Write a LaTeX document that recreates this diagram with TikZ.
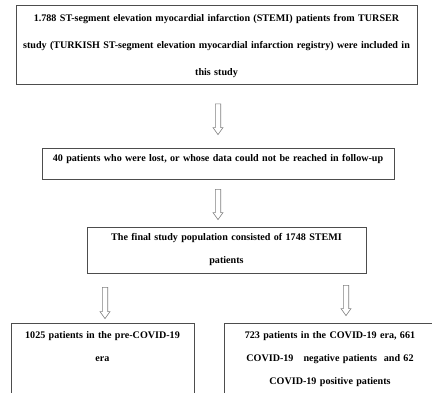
\documentclass[tikz,border=0pt]{standalone}
\usepackage{fontspec}
\setmainfont{Liberation Serif}
\usepackage{xcolor}
\usetikzlibrary{calc}
\definecolor{fgray}{HTML}{4D4D4D}
\definecolor{agray}{HTML}{808080}

\begin{document}
\begin{tikzpicture}[x=1pt, y=-1pt,
  flowbox/.style={draw=fgray, line width=0.8pt, inner sep=0pt, align=center, anchor=base,
    font=\fontsize{10.1}{23}\selectfont\bfseries},
  blockarrow/.style={draw=agray, line width=0.6pt, to path={let \p1=(\tikztostart), \p2=(\tikztotarget) in
    (\x1-2.7pt,\y1) -- (\x1+2.7pt,\y1) -- (\x1+2.7pt,\y2+7pt) -- (\x1+5pt,\y2+7pt) -- (\x1,\y2)
    -- (\x1-5pt,\y2+7pt) -- (\x1-2.7pt,\y2+7pt) -- cycle}}]
\useasboundingbox (0,0) rectangle (432,393);
\clip (0,0) rectangle (432,393);
\node[flowbox, text width=401pt, text height=16.5pt, text depth=62.5pt, font=\fontsize{10.1}{26.7}\selectfont\bfseries]
  (total) at (216.5,22) {1.788 ST-segment elevation myocardial infarction (STEMI) patients from TURSER\\
  study (TURKISH ST-segment elevation myocardial infarction registry) were included in\\this study};
\node[flowbox, text width=352pt, text height=13.5pt, text depth=17.5pt]
  (lost) at (218,161.5) {40 patients who were lost, or whose data could not be reached in follow-up};
\node[flowbox, text width=279pt, text height=13.5pt, text depth=32.5pt]
  (final) at (226.5,240.5) {The final study population consisted of 1748 STEMI\\patients};
\node[flowbox, text width=183pt, text height=15.5pt, text depth=90pt]
  (precovid) at (102.5,338.5) {1025 patients in the pre-COVID-19\\era};
\node[flowbox, text width=212pt, text height=15.5pt, text depth=90pt]
  (covid) at (330,338.5) {723 patients in the COVID-19 era, 661\\COVID-19\ \ \ negative patients\ \ and 62\\COVID-19 positive patients};
\draw[blockarrow] ([yshift=-19pt]total.south -| lost.north) to ([yshift=13pt]lost.north);
\draw[blockarrow] ([yshift=-10pt]lost.south) to ([yshift=7pt]final.north);
\draw[blockarrow] ([xshift=2.5pt,yshift=-14pt]final.south -| precovid.north) to ([yshift=4pt]precovid.north);
\draw[blockarrow] ([xshift=16pt,yshift=-12pt]final.south -| covid.north) to ([yshift=7pt]covid.north);
\end{tikzpicture}
\end{document}
